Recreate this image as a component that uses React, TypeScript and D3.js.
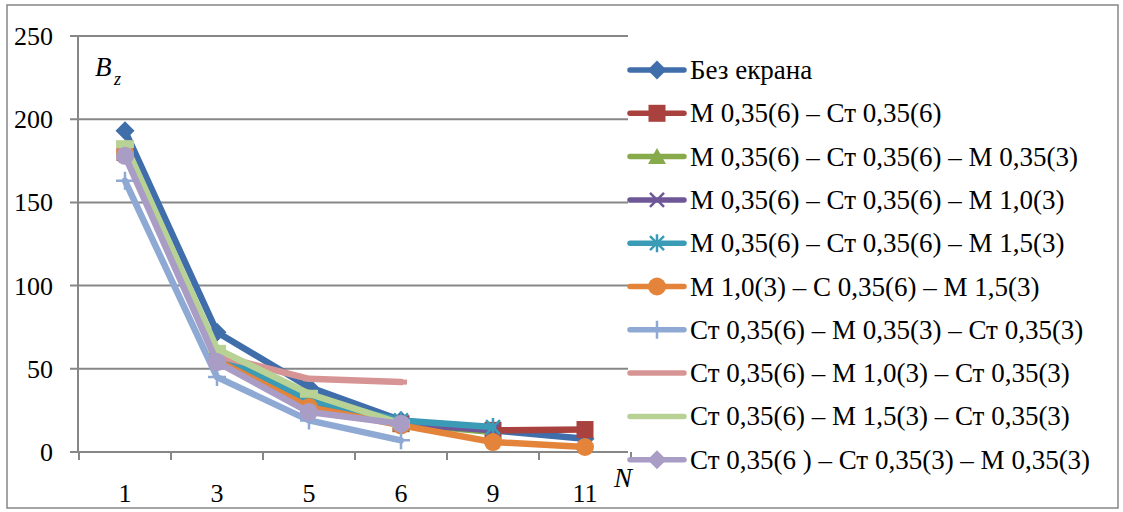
import React from "react";
import * as d3 from "d3";

// N values on the category axis
const categories = ["1", "3", "5", "6", "9", "11"];
const yTicks = [0, 50, 100, 150, 200, 250];

// series names (legend order)
const seriesNames = [
  "Без екрана",
  "M 0,35(6) – Ст 0,35(6)",
  "M 0,35(6) – Ст 0,35(6) – M 0,35(3)",
  "M 0,35(6) – Ст 0,35(6) – M 1,0(3)",
  "M 0,35(6) – Ст 0,35(6) – M 1,5(3)",
  "M 1,0(3) – C 0,35(6) – M 1,5(3)",
  "Ст 0,35(6) – M 0,35(3) – Ст 0,35(3)",
  "Ст 0,35(6) – M 1,0(3) – Ст 0,35(3)",
  "Ст 0,35(6) – M 1,5(3) – Ст 0,35(3)",
  "Ст 0,35(6 ) – Ст 0,35(3) – M 0,35(3)",
];

// Bz values, null = no point
const bezEkrana = [193, 72, 39, 19, 13, 8];
const m035st035 = [180, 57, 28, 17, 13, 13.5];
const m035st035m035 = [183, 60, 33, 17, 12, null];
const m035st035m10 = [179, 57, 30, 17, 13, null];
const m035st035m15 = [181, 58, 31, 19, 15, null];
const m10c035m15 = [180, 55, 27, 16, 6, 3];
const st035m035st035 = [163, 45, 19, 7, null, null];
const st035m10st035 = [181, 58, 44, 42, null, null];
const st035m15st035 = [185, 62, 35, 17, null, null];
const st035st035m035 = [178, 54, 24, 17, null, null];

const seriesValues = [
  bezEkrana, m035st035, m035st035m035, m035st035m10, m035st035m15,
  m10c035m15, st035m035st035, st035m10st035, st035m15st035, st035st035m035,
];

const colors = [
  "#3f6eaa", "#a9423f", "#87aa4a", "#6e5797", "#3a9bb7",
  "#e3843a", "#8ea9d3", "#d69594", "#b8d296", "#a99dc6",
];
const markers = [
  "diamond", "square", "triangle", "x", "star",
  "circle", "plus", "dash", "longdash", "circle",
];
const legendMarkers = [
  "diamond", "square", "triangle", "x", "star",
  "circle", "plus", "none", "none", "diamond",
];

const FONT = "'Liberation Serif', 'Times New Roman', serif";

function Marker({ type, x, y, color }: { type: string; x: number; y: number; color: string }) {
  const t = `translate(${x},${y})`;
  switch (type) {
    case "diamond":
      return <path transform={t} d="M0,-9.5L9.5,0L0,9.5L-9.5,0Z" fill={color} />;
    case "square":
      return <rect transform={t} x={-8.5} y={-8.5} width={17} height={17} fill={color} />;
    case "triangle":
      return <path transform={t} d="M0,-8.5L9,7.5L-9,7.5Z" fill={color} />;
    case "x":
      return <path transform={t} d="M-7,-7L7,7M7,-7L-7,7" stroke={color} strokeWidth={2.5} />;
    case "star":
      return <path transform={t} d="M-7,-7L7,7M7,-7L-7,7M0,-9L0,9" stroke={color} strokeWidth={2.5} />;
    case "circle":
      return <circle cx={x} cy={y} r={9} fill={color} />;
    case "plus":
      return <path transform={t} d="M-9,0L9,0M0,-9L0,9" stroke={color} strokeWidth={2.5} />;
    case "dash":
      return <rect transform={t} x={-6} y={-2.5} width={12} height={5} fill={color} />;
    case "longdash":
      return <rect transform={t} x={-9} y={-4} width={18} height={8} fill={color} />;
    default:
      return null;
  }
}

export default function App() {
  const width = 1123;
  const height = 512;
  const left = 79, right = 631, top = 36, bottom = 452;

  const x = d3.scaleBand().domain(categories).range([left, right]);
  const bw = x.bandwidth();
  const cx = (c: string) => (x(c) as number) + bw / 2;
  const y = d3.scaleLinear().domain([0, 250]).range([bottom, top]);

  const line = d3
    .line<number | null>()
    .defined((d) => d !== null)
    .x((_, i) => cx(categories[i]))
    .y((d) => y(d as number));

  const grid = "#878787";
  const legendX = 630;
  const legendY0 = 70;
  const legendStep = 43.3;

  return (
    <svg width={width} height={height} style={{ position: "absolute", left: 0, top: 0 }} fontFamily={FONT}>
      <rect x={0} y={0} width={width} height={height} fill="#fff" />
      <rect x={7} y={5} width={1111} height={503} fill="none" stroke={grid} strokeWidth={1.5} />

      {/* gridlines and y ticks */}
      {yTicks.map((t) => (
        <g key={t}>
          <line x1={70} x2={628} y1={y(t)} y2={y(t)} stroke={grid} strokeWidth={2} />
          <text x={53} y={y(t) + 9} fontSize={26} textAnchor="end" fill="#000">
            {t}
          </text>
        </g>
      ))}
      {/* y axis */}
      <line x1={left - 1} x2={left - 1} y1={top} y2={bottom} stroke={grid} strokeWidth={2} />
      {/* x ticks at band boundaries */}
      {categories.map((c) => (
        <line key={c} x1={x(c) as number} x2={x(c) as number} y1={bottom} y2={bottom + 8} stroke={grid} strokeWidth={2} />
      ))}
      <line x1={right} x2={right} y1={bottom} y2={bottom + 8} stroke={grid} strokeWidth={2} />
      {categories.map((c) => (
        <text key={c} x={cx(c)} y={502} fontSize={26} textAnchor="middle" fill="#000">
          {c}
        </text>
      ))}

      {/* series */}
      {seriesValues.map((vals, si) => (
        <g key={si}>
          <path d={line(vals) || ""} fill="none" stroke={colors[si]} strokeWidth={6.5} strokeLinejoin="round" strokeLinecap="round" />
          {vals.map((v, i) =>
            v === null ? null : (
              <Marker key={i} type={markers[si]} x={cx(categories[i])} y={y(v)} color={colors[si]} />
            )
          )}
        </g>
      ))}

      {/* axis labels */}
      <text x={95} y={76} fontSize={27} fontStyle="italic" fill="#000">B</text>
      <text x={114} y={85} fontSize={18} fontStyle="italic" fill="#000">z</text>
      <text x={614} y={487} fontSize={27} fontStyle="italic" fill="#000">N</text>

      {/* legend */}
      {seriesNames.map((name, si) => {
        const ly = legendY0 + si * legendStep;
        return (
          <g key={name}>
            <line x1={legendX} x2={684} y1={ly} y2={ly} stroke={colors[si]} strokeWidth={5.5} strokeLinecap="round" />
            <Marker type={legendMarkers[si]} x={657} y={ly} color={colors[si]} />
            <text x={690} y={ly + 9} fontSize={27} fill="#000">
              {name}
            </text>
          </g>
        );
      })}
    </svg>
  );
}
